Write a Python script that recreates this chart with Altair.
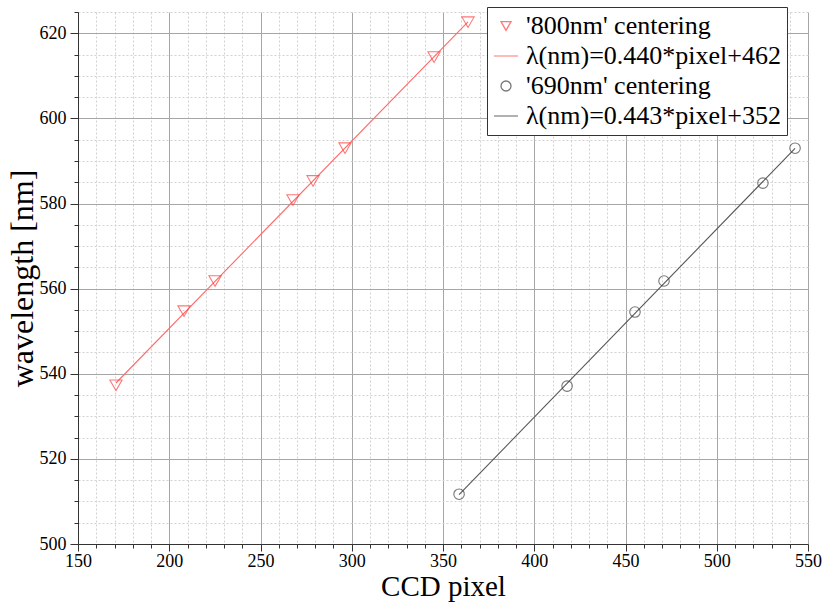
import altair as alt
import pandas as pd

# ---- data ----
red_px = [170.8, 208.1, 225.1, 267.8, 278.8, 296.3, 345.1, 363.7]
red_nm = [537.3, 554.7, 561.8, 580.8, 585.3, 593.0, 614.4, 622.6]
blk_px = [358.8, 418.0, 455.2, 471.1, 525.3, 542.9]
blk_nm = [511.7, 537.1, 554.5, 561.8, 584.8, 593.0]

entries = ["'800nm' centering", "λ(nm)=0.440*pixel+462",
           "'690nm' centering", "λ(nm)=0.443*pixel+352"]
entry_colors = ["#ff4040", "#ff6a6a", "#404040", "#555555"]
entry_shapes = ["triangle-down", "M-2.4,0H2.4", "circle", "M-2.4,0H2.4"]

x_major = [150, 200, 250, 300, 350, 400, 450, 500, 550]
y_major = [500, 520, 540, 560, 580, 600, 620]
x_minor = [v for v in range(160, 550, 10) if v % 50 != 0]
y_minor = [v for v in range(505, 630, 5) if v % 20 != 0]

red = pd.DataFrame({"px": red_px, "nm": red_nm, "pt": entries[0], "fit": entries[1]})
blk = pd.DataFrame({"px": blk_px, "nm": blk_nm, "pt": entries[2], "fit": entries[3]})
df = pd.concat([red, blk], ignore_index=True)

FONT = "Liberation Serif"
xs = alt.Scale(domain=[150, 550], nice=False, zero=False)
ys = alt.Scale(domain=[500, 625], nice=False, zero=False)
cs = alt.Scale(domain=entries, range=entry_colors)
ss = alt.Scale(domain=entries, range=entry_shapes)

x_axis_major = alt.Axis(values=x_major, orient="bottom", grid=True, gridColor="#a6a6a6",
                        gridWidth=1, domainColor="#333333", tickColor="#333333",
                        tickSize=7, labelFont=FONT, labelFontSize=18, labelColor="black",
                        labelFlush=False, labelPadding=1, title="CCD pixel", titleFont=FONT,
                        titleFontSize=29, titleFontWeight="normal", titleColor="black",
                        titlePadding=2)
y_axis_major = alt.Axis(values=y_major, orient="left", grid=True, gridColor="#a6a6a6",
                        gridWidth=1, domainColor="#333333", tickColor="#333333",
                        tickSize=8, labelFont=FONT, labelFontSize=18, labelColor="black",
                        labelFlush=False, labelPadding=4, title="wavelength [nm]",
                        titleFont=FONT, titleFontSize=32, titleFontWeight="normal",
                        titleColor="black", titlePadding=0)
x_axis_minor = alt.Axis(values=x_minor, orient="bottom", grid=True, gridColor="#d2d2d2",
                        gridDash=[2, 2], labels=False, domain=False, tickColor="#333333",
                        tickSize=4, title=None)
y_axis_minor = alt.Axis(values=y_minor, orient="left", grid=True, gridColor="#d2d2d2",
                        gridDash=[2, 2], labels=False, domain=False, tickColor="#333333",
                        tickSize=4, title=None)

legend = alt.Legend(orient="none", legendX=409, legendY=-5, title=None,
                    labelFont=FONT, labelFontSize=26, labelColor="black", labelLimit=500,
                    labelOffset=7, symbolSize=100, symbolStrokeWidth=1.3,
                    fillColor="white", strokeColor="#333333", padding=6, rowPadding=4)

base = alt.Chart(df)

minor = base.mark_point(opacity=0).encode(
    x=alt.X("px:Q", scale=xs, axis=x_axis_minor),
    y=alt.Y("nm:Q", scale=ys, axis=y_axis_minor),
)

lines = base.transform_regression("px", "nm", groupby=["fit"]).mark_line(strokeWidth=1.1).encode(
    x=alt.X("px:Q", scale=xs, axis=x_axis_major),
    y=alt.Y("nm:Q", scale=ys, axis=y_axis_major),
    color=alt.Color("fit:N", scale=cs, legend=legend),
)

red_pts = alt.Chart(red).mark_point(filled=False, size=150, strokeWidth=1.1).encode(
    x=alt.X("px:Q", scale=xs, axis=None),
    y=alt.Y("nm:Q", scale=ys, axis=None),
    color=alt.Color("pt:N", scale=cs, legend=legend),
    shape=alt.Shape("pt:N", scale=ss, legend=legend),
)
blk_pts = alt.Chart(blk).mark_point(filled=False, size=110, strokeWidth=1.1).encode(
    x=alt.X("px:Q", scale=xs, axis=None),
    y=alt.Y("nm:Q", scale=ys, axis=None),
    color=alt.Color("pt:N", scale=cs, legend=legend),
    shape=alt.Shape("pt:N", scale=ss, legend=legend),
)

chart = alt.layer(minor, lines, red_pts, blk_pts).resolve_axis(
    x="independent", y="independent"
).properties(
    width=730, height=532,
    padding={"left": 78, "top": 12, "right": 17, "bottom": 62},
    autosize=alt.AutoSizeParams(type="none"),
    background="white",
).configure(font=FONT).configure_axis(
    labelFont=FONT, titleFont=FONT
).configure_legend(labelFont=FONT).configure_view(stroke=None)

chart.save("out.html", embed_options={"renderer": "svg", "actions": False})
